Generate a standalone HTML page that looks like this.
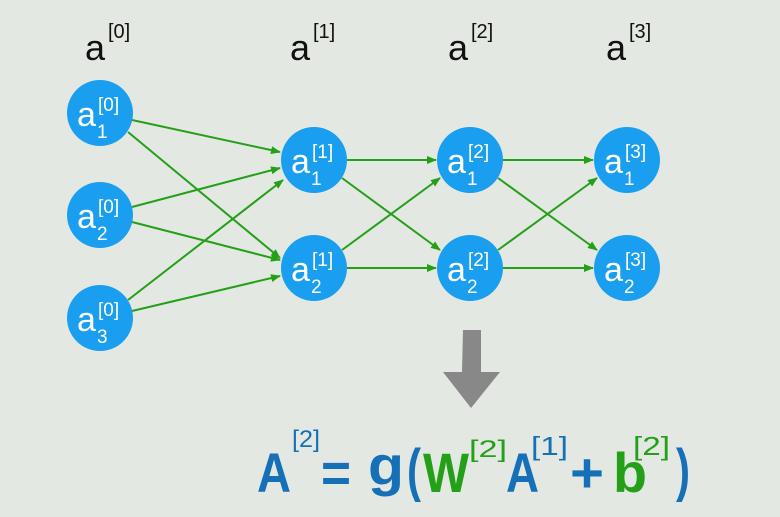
<!DOCTYPE html>
<html><head><meta charset="utf-8"><style>
html,body{margin:0;padding:0;background:#e4e8e2;}
svg{display:block}
</style></head><body>
<svg width="780" height="517" viewBox="0 0 780 517" xmlns="http://www.w3.org/2000/svg" font-family="Liberation Sans, sans-serif">
<defs>
<marker id="ah" markerWidth="10" markerHeight="8" refX="9" refY="4" orient="auto" markerUnits="userSpaceOnUse">
<path d="M0,0 L10,4 L0,8 z" fill="#23a018"/>
</marker>
</defs>
<rect width="780" height="517" fill="#e4e8e2"/>
<g fill="#111" font-size="36">
<text x="85" y="60">a</text><text x="108" y="38" font-size="20">[0]</text>
<text x="290" y="60">a</text><text x="313" y="38" font-size="20">[1]</text>
<text x="448" y="60">a</text><text x="471" y="38" font-size="20">[2]</text>
<text x="606" y="60">a</text><text x="629" y="38" font-size="20">[3]</text>
</g>
<g stroke="#23a018" stroke-width="2" marker-end="url(#ah)">
<line x1="132" y1="120" x2="280" y2="152"/>
<line x1="128" y1="132" x2="280" y2="258"/>
<line x1="132" y1="207" x2="280" y2="168"/>
<line x1="132" y1="222" x2="280" y2="260"/>
<line x1="128" y1="300" x2="283" y2="180"/>
<line x1="132" y1="311" x2="280" y2="276"/>
<line x1="347" y1="160" x2="436" y2="160"/>
<line x1="342" y1="178" x2="440" y2="250"/>
<line x1="342" y1="250" x2="440" y2="178"/>
<line x1="347" y1="268" x2="436" y2="268"/>
<line x1="503" y1="160" x2="593" y2="160"/>
<line x1="498" y1="178" x2="597" y2="250"/>
<line x1="498" y1="250" x2="597" y2="178"/>
<line x1="503" y1="268" x2="593" y2="268"/>
</g>
<g fill="#1a9ef0">
<circle cx="100" cy="113" r="33"/><circle cx="100" cy="215" r="33"/><circle cx="100" cy="318" r="33"/>
<circle cx="314" cy="160" r="33"/><circle cx="314" cy="268" r="33"/>
<circle cx="470" cy="160" r="33"/><circle cx="470" cy="268" r="33"/>
<circle cx="627" cy="160" r="33"/><circle cx="627" cy="268" r="33"/>
</g>
<g fill="#fff" font-size="34">
<text x="77" y="126">a</text><text x="97" y="138" font-size="19">1</text><text x="98" y="111" font-size="19">[0]</text>
<text x="77" y="228">a</text><text x="97" y="240" font-size="19">2</text><text x="98" y="213" font-size="19">[0]</text>
<text x="77" y="331">a</text><text x="97" y="343" font-size="19">3</text><text x="98" y="316" font-size="19">[0]</text>
<text x="291" y="173">a</text><text x="311" y="185" font-size="19">1</text><text x="312" y="158" font-size="19">[1]</text>
<text x="291" y="281">a</text><text x="311" y="293" font-size="19">2</text><text x="312" y="266" font-size="19">[1]</text>
<text x="447" y="173">a</text><text x="467" y="185" font-size="19">1</text><text x="468" y="158" font-size="19">[2]</text>
<text x="447" y="281">a</text><text x="467" y="293" font-size="19">2</text><text x="468" y="266" font-size="19">[2]</text>
<text x="604" y="173">a</text><text x="624" y="185" font-size="19">1</text><text x="625" y="158" font-size="19">[3]</text>
<text x="604" y="281">a</text><text x="624" y="293" font-size="19">2</text><text x="625" y="266" font-size="19">[3]</text>
</g>
<path d="M463,330 H481 V372 H500 L471,408 L443,372 H462 Z" fill="#888"/>
<g font-weight="bold" font-size="56">
<text x="257" y="492" fill="#1570b8" textLength="34" lengthAdjust="spacingAndGlyphs">A</text>
<text x="292" y="447" fill="#1570b8" font-size="24" font-weight="normal" textLength="28" lengthAdjust="spacingAndGlyphs">[2]</text>
<text x="321" y="492" fill="#1570b8" textLength="30" lengthAdjust="spacingAndGlyphs">=</text>
<text x="368" y="485" fill="#1570b8" textLength="36" lengthAdjust="spacingAndGlyphs">g</text>
<text x="407" y="490" fill="#1570b8" font-size="58" textLength="14" lengthAdjust="spacingAndGlyphs">(</text>
<text x="423" y="492" fill="#23a018" textLength="46" lengthAdjust="spacingAndGlyphs">W</text>
<text x="469" y="457" fill="#23a018" font-size="24" font-weight="normal" textLength="38" lengthAdjust="spacingAndGlyphs">[2]</text>
<text x="506" y="492" fill="#1570b8" textLength="33" lengthAdjust="spacingAndGlyphs">A</text>
<text x="531" y="455" fill="#1570b8" font-size="26" font-weight="normal" textLength="37" lengthAdjust="spacingAndGlyphs">[1]</text>
<text x="570" y="492" fill="#1570b8" textLength="34" lengthAdjust="spacingAndGlyphs">+</text>
<text x="613" y="492" fill="#23a018" textLength="34" lengthAdjust="spacingAndGlyphs">b</text>
<text x="633" y="455" fill="#23a018" font-size="26" font-weight="normal" textLength="37" lengthAdjust="spacingAndGlyphs">[2]</text>
<text x="676" y="490" fill="#1570b8" font-size="58" textLength="14" lengthAdjust="spacingAndGlyphs">)</text>
</g>
</svg>
</body></html>
